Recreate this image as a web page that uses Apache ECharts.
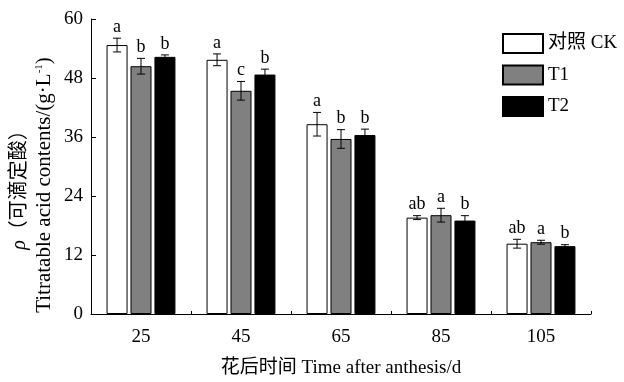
<!DOCTYPE html>
<html><head><meta charset="utf-8">
<script src="https://cdn.jsdelivr.net/npm/echarts@6/dist/echarts.min.js"></script>
<style>html,body{margin:0;padding:0;background:#fff}#c{width:624px;height:382px}</style>
</head><body><div id="c"></div>
<script>
var categories = ['25', '45', '65', '85', '105'];
var seriesNames = ['对照 CK', 'T1', 'T2'];
var ckValues = [54.7, 51.7, 38.6, 19.6, 14.3];
var ckErrors = [1.4, 1.2, 2.4, 0.4, 0.9];
var ckLetters = ['a', 'a', 'a', 'ab', 'ab'];
var t1Values = [50.4, 45.4, 35.6, 20.1, 14.6];
var t1Errors = [1.6, 1.9, 1.9, 1.4, 0.4];
var t1Letters = ['b', 'c', 'b', 'a', 'a'];
var t2Values = [52.3, 48.7, 36.4, 19.0, 13.8];
var t2Errors = [0.4, 1.1, 1.2, 1.0, 0.3];
var t2Letters = ['b', 'b', 'b', 'b', 'b'];
var yTicks = [0, 12, 24, 36, 48, 60];

var FONT = "'Liberation Serif', 'Times New Roman', 'Noto Sans CJK SC', serif";
var colors = ['#ffffff', '#808080', '#000000'];
var BAR_W = 21, BAR_GAP = 0.14;
var step = BAR_W * (1 + BAR_GAP);

var vals = [ckValues, t1Values, t2Values];
var errs = [ckErrors, t1Errors, t2Errors];
var lets = [ckLetters, t1Letters, t2Letters];

var series = [];
seriesNames.forEach(function (name, k) {
  series.push({
    name: name, type: 'bar', barWidth: BAR_W, barGap: (BAR_GAP * 100) + '%',
    data: vals[k],
    itemStyle: { color: colors[k], borderColor: '#000', borderWidth: 1 },
    z: 2
  });
});
seriesNames.forEach(function (name, k) {
  var off = (k - 1) * step;
  series.push({
    type: 'custom', z: 5, silent: true,
    data: vals[k].map(function (v, i) { return [i, v, errs[k][i]]; }),
    renderItem: function (params, api) {
      var i = api.value(0), v = api.value(1), e = api.value(2);
      var lab = lets[k][params.dataIndex];
      var top = api.coord([i, v + e]);
      var bot = api.coord([i, v - e]);
      var x = top[0] + off;
      var cap = 4;
      var ls = { stroke: '#000', lineWidth: 1 };
      return {
        type: 'group',
        children: [
          { type: 'line', shape: { x1: x, y1: top[1], x2: x, y2: bot[1] }, style: ls },
          { type: 'line', shape: { x1: x - cap, y1: top[1], x2: x + cap, y2: top[1] }, style: ls },
          { type: 'line', shape: { x1: x - cap, y1: bot[1], x2: x + cap, y2: bot[1] }, style: ls },
          { type: 'text', style: { text: lab, x: x, y: top[1] - 2, align: 'center', verticalAlign: 'bottom',
              fontSize: 18, fontFamily: FONT, fill: '#000' } }
        ]
      };
    }
  });
});

var chart = echarts.init(document.getElementById('c'), null, { renderer: 'canvas' });
chart.setOption({
  animation: false,
  backgroundColor: '#fff',
  grid: { left: 91, right: 33, top: 19, bottom: 68, containLabel: false },
  legend: {
    data: seriesNames, orient: 'vertical', left: 502, top: 33, padding: 0,
    itemWidth: 40, itemHeight: 19, itemGap: 10.5, icon: 'rect',
    textStyle: { fontSize: 19, fontFamily: FONT, color: '#000' }
  },
  xAxis: {
    type: 'category', data: categories,
    axisLine: { lineStyle: { color: '#000', width: 1 } },
    axisTick: { show: true, inside: true, length: 3, lineStyle: { color: '#000' } },
    axisLabel: { fontSize: 19, fontFamily: FONT, color: '#000', margin: 14 }
  },
  yAxis: {
    type: 'value', min: yTicks[0], max: yTicks[yTicks.length - 1], interval: yTicks[1] - yTicks[0],
    axisLine: { show: true, lineStyle: { color: '#000', width: 1 } },
    axisTick: { show: true, inside: true, length: 5, lineStyle: { color: '#000' } },
    splitLine: { show: false },
    axisLabel: { fontSize: 19, fontFamily: FONT, color: '#000', margin: 8 }
  },
  graphic: [
    { type: 'text', x: 341, y: 368, style: { text: '花后时间 Time after anthesis/d', align: 'center', verticalAlign: 'middle',
        fontSize: 19, fontFamily: FONT, fill: '#000' } },
    { type: 'text', x: 20, y: 185, rotation: Math.PI / 2,
      style: { text: '{i|ρ}（可滴定酸）', align: 'center', verticalAlign: 'middle',
        fontSize: 20, fontFamily: FONT, fill: '#000',
        rich: { i: { fontStyle: 'italic', fontSize: 20, fontFamily: FONT } } } },
    { type: 'text', x: 44, y: 185, rotation: Math.PI / 2,
      style: { text: 'Titratable acid contents/(g·L{sup|-1})', align: 'center', verticalAlign: 'middle',
        fontSize: 21, fontFamily: FONT, fill: '#000',
        rich: { sup: { fontSize: 11, fontFamily: FONT, verticalAlign: 'top', padding: [0, 0, 9, 0] } } } }
  ],
  series: series
});
</script></body></html>
